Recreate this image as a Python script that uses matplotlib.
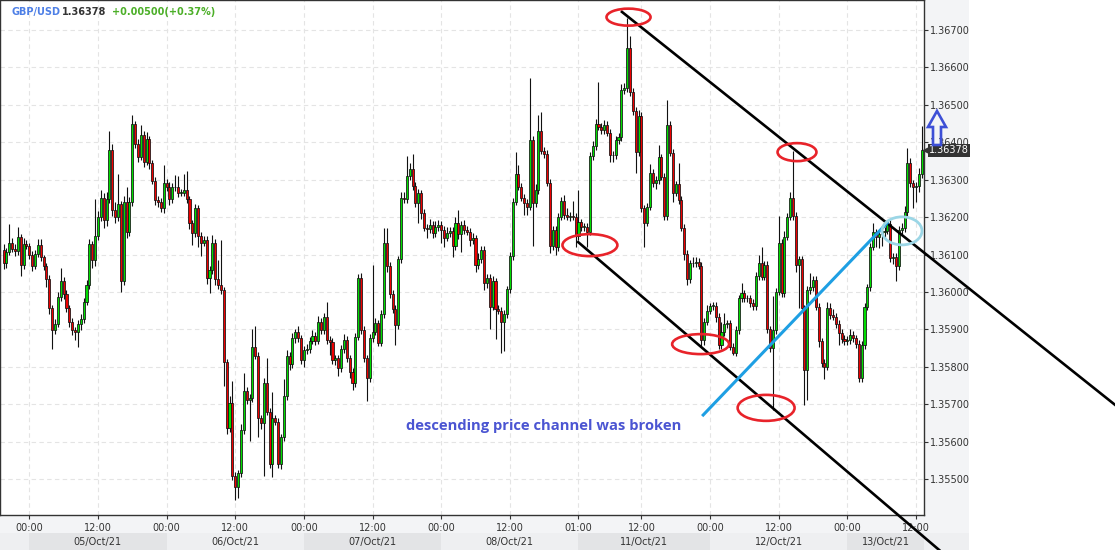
import numpy as np
import matplotlib.pyplot as plt
from matplotlib.patches import Ellipse, Polygon, Rectangle
from matplotlib.ticker import FormatStrFormatter

# GBP/USD, 30-minute candles, 04/Oct/21 evening -> 13/Oct/21 noon (weekend skipped)
# closes in pips above 1.36000; open of each candle = previous close
first_open_pips = 11.2
close_pips = [
    7.6, 10.8, 13.2, 11.4, 11.0, 14.8, 7.2, 12.8, 12.3, 9.9,
    7.0, 10.1, 12.6, 9.2, 7.0, 3.4, -4.4, -10.1, -8.5, -1.4,
    2.9, -0.6, -4.4, -7.9, -10.1, -10.7, -8.6, -7.3, -2.6, 1.9,
    12.7, 8.5, 14.9, 20.1, 25.2, 19.2, 24.7, 37.9, 21.9, 19.9,
    23.4, 2.8, 24.1, 15.9, 23.9, 44.7, 39.6, 36.1, 41.9, 34.8,
    40.7, 34.3, 29.7, 24.5, 24.1, 22.3, 29.2, 27.9, 24.8, 28.1,
    27.9, 26.5, 26.5, 27.2, 24.7, 18.3, 15.8, 22.3, 15.0, 13.2,
    13.9, 3.6, 5.9, 13.2, 3.4, 1.9, 0.4, -18.8, -36.3, -29.7,
    -49.1, -51.9, -48.4, -36.8, -26.3, -28.8, -28.3, -14.8, -17.0, -33.7,
    -35.0, -24.4, -31.9, -45.9, -33.7, -34.6, -45.9, -38.8, -27.7, -17.0,
    -19.3, -12.4, -10.8, -12.4, -18.1, -15.5, -15.2, -13.0, -11.7, -13.0,
    -7.9, -10.1, -6.8, -12.8, -13.3, -18.1, -17.7, -20.4, -15.3, -12.8,
    -17.7, -21.4, -24.4, -11.9, 3.6, -10.1, -17.7, -23.0, -12.4, -10.6,
    -8.4, -13.5, -5.9, 13.2, 6.9, -0.5, -4.5, -8.8, 8.7, 25.2,
    24.7, 30.9, 32.9, 28.3, 23.8, 26.3, 21.1, 17.2, 16.7, 17.9,
    15.8, 17.4, 17.9, 16.5, 14.5, 15.8, 16.3, 12.3, 18.5, 15.6,
    17.9, 16.5, 16.1, 13.9, 14.3, 7.2, 8.8, 11.2, 2.5, 3.7,
    -3.9, 2.8, -4.6, -5.0, -7.9, -5.9, 0.7, 9.6, 24.1, 31.4,
    28.1, 25.2, 23.8, 22.8, 40.5, 23.8, 27.2, 42.9, 37.7, 36.8,
    29.2, 12.3, 16.5, 11.9, 20.1, 24.3, 20.5, 20.1, 20.3, 20.1,
    14.9, 18.6, 17.4, 17.4, 16.1, 36.3, 38.9, 44.7, 44.1, 43.2,
    44.5, 42.5, 36.5, 36.5, 40.5, 41.4, 53.9, 54.3, 65.2, 53.4,
    48.3, 37.4, 47.0, 22.3, 18.5, 22.8, 31.8, 29.0, 29.9, 35.9,
    30.8, 20.3, 44.5, 37.2, 26.5, 28.7, 24.5, 17.2, 10.1, 3.4,
    7.6, 7.6, 8.1, 7.0, -12.8, -7.9, -5.0, -3.7, -3.7, -6.6,
    -14.1, -10.8, -8.5, -8.4, -14.6, -16.3, -10.1, -1.7, -0.4, -1.7,
    -1.7, -3.0, -3.7, 4.3, 7.6, 4.1, 7.2, -10.0, -15.0, -10.1,
    0.1, 13.2, -0.4, 14.8, 20.1, 25.2, 20.3, 7.2, 8.7, -4.4,
    -20.8, 0.5, 1.2, 3.2, -3.9, -13.2, -19.0, -19.9, -4.4, -6.1,
    -6.6, -8.5, -11.0, -12.6, -13.2, -12.8, -11.5, -12.4, -13.9, -23.0,
    -14.1, -3.9, 1.2, 12.1, 15.9, 14.8, 15.4, 16.1, 16.4, 18.1,
    9.0, 9.4, 6.8, 16.5, 17.0, 21.4, 34.3, 29.0, 28.1, 28.3,
    31.5, 37.8,
]
# wick lengths in pips above / below the body
up_wick = [
    1.5, 1.0, 5.0, 1.2, 1.5, 2.6, 0.8, 1.5, 1.0, 0.8,
    1.0, 1.2, 1.5, 1.5, 0.8, 0.8, 1.0, 0.8, 1.2, 1.5,
    3.4, 1.0, 1.2, 0.8, 1.0, 0.8, 1.0, 1.5, 1.0, 1.2,
    1.5, 1.0, 10.0, 1.5, 2.0, 1.2, 2.0, 5.0, 1.5, 2.0,
    8.0, 1.0, 1.5, 4.0, 1.5, 2.5, 1.0, 1.2, 2.6, 1.0,
    2.0, 1.0, 0.8, 1.0, 1.2, 1.0, 4.7, 1.0, 1.5, 1.0,
    3.0, 3.0, 1.0, 4.3, 5.0, 1.0, 1.0, 1.2, 1.0, 1.0,
    1.0, 1.0, 1.0, 2.0, 1.0, 5.0, 12.0, 1.0, 1.0, 2.0,
    6.0, 1.0, 1.0, 1.5, 4.8, 1.0, 1.0, 4.8, 5.7, 1.0,
    1.0, 1.5, 6.7, 1.0, 7.0, 1.0, 1.0, 1.0, 4.4, 1.5,
    1.0, 1.5, 1.0, 1.6, 1.0, 1.0, 1.2, 1.0, 1.5, 1.0,
    1.5, 1.0, 1.2, 4.0, 1.0, 1.0, 1.0, 1.0, 1.2, 1.5,
    1.0, 1.0, 1.0, 1.0, 1.1, 1.5, 1.0, 1.0, 1.2, 17.8,
    1.5, 1.0, 1.0, 4.0, 4.0, 1.0, 1.0, 1.0, 1.0, 1.5,
    1.5, 5.4, 1.5, 3.9, 1.0, 1.2, 1.0, 1.0, 1.0, 1.5,
    1.0, 1.5, 1.2, 1.0, 1.0, 1.5, 1.0, 1.0, 1.5, 3.4,
    1.0, 1.2, 1.0, 1.0, 1.5, 1.0, 1.5, 1.2, 1.0, 1.0,
    1.0, 1.5, 1.0, 1.0, 1.0, 1.0, 1.0, 1.2, 1.0, 6.0,
    2.5, 1.0, 1.0, 1.0, 16.5, 1.0, 1.5, 4.3, 5.2, 1.0,
    1.0, 1.0, 1.2, 1.0, 1.0, 1.1, 1.5, 2.0, 1.0, 4.0,
    1.0, 8.6, 1.0, 1.0, 1.0, 1.0, 1.5, 1.5, 11.4, 1.0,
    1.5, 1.0, 1.0, 1.0, 1.2, 1.0, 1.5, 1.5, 8.0, 3.0,
    1.0, 1.0, 1.5, 1.0, 1.0, 1.0, 2.3, 1.0, 1.0, 3.3,
    1.0, 1.0, 6.7, 1.0, 1.0, 1.0, 5.6, 1.0, 1.0, 1.0,
    1.0, 1.8, 1.3, 1.0, 1.0, 1.0, 1.5, 0.7, 1.0, 1.0,
    1.0, 2.9, 2.8, 1.0, 1.0, 1.0, 1.0, 1.0, 2.7, 1.0,
    1.0, 1.0, 1.0, 1.0, 2.3, 4.3, 1.0, 1.0, 1.0, 9.0,
    1.0, 7.1, 1.0, 1.5, 1.0, 1.5, 12.5, 1.0, 1.0, 1.0,
    1.0, 1.0, 3.8, 1.0, 1.0, 1.0, 1.0, 1.0, 1.8, 1.5,
    1.5, 1.0, 1.0, 1.0, 1.0, 1.0, 1.5, 1.0, 1.0, 1.0,
    1.0, 1.0, 1.0, 1.0, 2.6, 1.0, 1.0, 1.0, 1.0, 1.0,
    1.0, 1.0, 1.0, 1.0, 1.5, 1.5, 4.0, 1.5, 1.0, 1.0,
    1.5, 6.5,
]
down_wick = [
    1.5, 1.2, 1.0, 0.8, 1.5, 1.0, 3.0, 1.2, 0.8, 1.0,
    1.5, 1.0, 0.8, 1.0, 1.2, 2.0, 1.5, 5.2, 1.0, 0.8,
    1.0, 1.2, 1.0, 1.5, 1.5, 2.0, 4.0, 1.5, 1.0, 0.8,
    1.0, 2.0, 1.5, 1.0, 1.2, 2.0, 1.5, 1.0, 1.5, 1.5,
    1.0, 2.7, 1.0, 1.5, 1.0, 1.0, 1.2, 1.5, 1.0, 1.5,
    1.0, 1.5, 1.0, 1.2, 1.5, 1.0, 1.2, 1.0, 1.5, 1.0,
    1.0, 1.2, 1.0, 1.0, 1.0, 1.5, 3.3, 1.0, 2.9, 3.5,
    1.0, 1.5, 4.0, 1.0, 1.5, 1.0, 1.0, 6.4, 1.5, 1.0,
    1.0, 3.6, 3.0, 1.0, 1.0, 1.0, 11.0, 1.0, 1.0, 5.0,
    1.5, 14.0, 1.0, 1.0, 3.5, 1.0, 1.0, 1.2, 1.0, 1.0,
    1.5, 1.0, 1.2, 1.0, 1.0, 2.0, 1.0, 1.0, 1.0, 1.2,
    1.0, 1.2, 1.0, 1.0, 3.5, 1.0, 1.5, 2.0, 1.0, 1.0,
    1.0, 1.5, 1.7, 1.0, 1.0, 1.0, 1.0, 6.0, 1.0, 1.0,
    1.0, 1.0, 1.0, 1.0, 1.5, 1.0, 1.0, 5.3, 1.0, 1.0,
    1.0, 1.0, 1.0, 1.2, 1.0, 5.3, 1.5, 1.0, 2.4, 1.0,
    1.5, 1.0, 1.0, 3.5, 2.6, 1.0, 1.2, 3.0, 1.0, 1.5,
    4.9, 1.0, 1.0, 1.5, 1.0, 2.0, 1.0, 1.0, 2.0, 1.5,
    6.0, 1.0, 8.0, 1.0, 8.5, 7.8, 1.0, 1.0, 1.0, 1.0,
    1.0, 1.0, 3.3, 2.3, 1.0, 11.5, 1.0, 1.0, 1.0, 1.0,
    1.0, 1.8, 1.0, 2.0, 1.0, 1.0, 1.0, 1.0, 1.2, 1.0,
    2.8, 1.0, 1.2, 1.0, 4.0, 1.0, 1.0, 1.0, 1.0, 1.0,
    1.0, 1.0, 1.7, 1.7, 1.0, 1.0, 1.0, 1.0, 1.0, 1.0,
    1.0, 5.6, 1.0, 1.0, 6.4, 1.0, 1.0, 1.0, 1.5, 1.0,
    1.0, 1.0, 1.0, 1.0, 2.6, 1.0, 1.0, 1.0, 1.5, 1.5,
    1.0, 1.0, 1.0, 1.0, 1.5, 1.3, 1.0, 1.0, 1.0, 1.5,
    1.0, 1.0, 1.0, 1.0, 1.0, 0.5, 0.9, 1.0, 1.0, 1.0,
    1.0, 1.0, 1.0, 1.0, 1.0, 1.0, 1.0, 1.0, 1.0, 16.5,
    1.0, 1.0, 1.0, 1.0, 1.0, 1.0, 1.0, 2.0, 11.6, 1.0,
    9.3, 8.0, 1.0, 1.0, 1.0, 1.5, 1.0, 3.4, 1.0, 1.0,
    1.0, 1.0, 3.2, 1.0, 1.0, 1.0, 1.0, 1.0, 1.0, 1.0,
    1.0, 1.0, 1.0, 1.0, 1.0, 2.7, 3.0, 3.0, 1.5, 1.0,
    1.0, 1.5, 4.0, 1.0, 1.0, 1.0, 1.0, 1.0, 5.8, 4.0,
    1.5, 1.0,
]
prev_day_close = 1.35878

tick_idx = [9, 33, 57, 81, 105, 129, 153, 177, 201, 223, 247, 271, 295, 319]
tick_lbl = ['00:00', '12:00', '00:00', '12:00', '00:00', '12:00', '00:00', '12:00',
            '01:00', '12:00', '00:00', '12:00', '00:00', '12:00']
day_start = [9, 57, 105, 153, 201, 247, 295]
day_lbl = ['05/Oct/21', '06/Oct/21', '07/Oct/21', '08/Oct/21',
           '11/Oct/21', '12/Oct/21', '13/Oct/21']
price_levels = [1.355, 1.356, 1.357, 1.358, 1.359, 1.360, 1.361,
                1.362, 1.363, 1.364, 1.365, 1.366, 1.367]

assert len(close_pips) == len(up_wick) == len(down_wick)

c = 1.36 + np.array(close_pips) / 1e4
o = np.concatenate([[1.36 + first_open_pips / 1e4], c[:-1]])
hi = np.maximum(o, c) + np.array(up_wick) / 1e4
lo = np.minimum(o, c) - np.array(down_wick) / 1e4
x = np.arange(len(c))

W, H = 1115, 550
fig = plt.figure(figsize=(W / 100, H / 100), dpi=100, facecolor='white')
fig.add_artist(Rectangle((924 / W, 35 / H), 45 / W, 515 / H, transform=fig.transFigure,
                         fc='#f3f4f6', ec='none', zorder=-1))

ax = fig.add_axes([0, 35 / H, 924 / W, 515 / H])
ax.set_zorder(2)
ax.set_xlim(-1.245, 321.8)
ax.set_ylim(1.354053, 1.367787)

colors = np.where(c >= o, '#00dd00', '#ee0000')
ax.vlines(x, lo, hi, color='#111111', lw=0.8, zorder=3)
ax.bar(x, np.maximum(np.abs(c - o), 1e-5), bottom=np.minimum(o, c), width=0.72,
       color=colors, edgecolor='#111111', linewidth=0.55, zorder=4)

ax.set_axisbelow(True)
ax.grid(True, ls=(0, (4, 3)), color='#e4e4e4', lw=0.8)
ax.set_yticks(price_levels)
ax.yaxis.set_major_formatter(FormatStrFormatter('%.5f'))
ax.yaxis.tick_right()
ax.set_xticks(tick_idx)
ax.set_xticklabels(tick_lbl)
ax.tick_params(axis='y', direction='out', length=3, pad=1, labelsize=7, colors='#333333')
ax.tick_params(axis='x', direction='out', length=3, pad=3, labelsize=7, colors='#333333')
for s in ax.spines.values():
    s.set_color('#333333')
    s.set_linewidth(1.0)

# bottom strip with date bands
x_right = ax.get_xlim()[1]
axb = fig.add_axes([0, 0, 969 / W, 35 / H])
axb.set_zorder(1)
axb.set_xlim(-1.245, 337.6)
axb.set_ylim(0, 1)
axb.axis('off')
axb.add_patch(Rectangle((-1.245, 0), 338.9, 1, fc='#f3f4f6', ec='none'))
axb.add_patch(Rectangle((-1.245, 0), 338.9, 17 / 35, fc='#eeeff1', ec='none'))
edges = day_start + [x_right]
for k, lbl in enumerate(day_lbl):
    if k % 2 == 0:
        axb.add_patch(Rectangle((edges[k], 0), edges[k + 1] - edges[k], 17 / 35,
                                fc='#e3e4e6', ec='none'))
    axb.text((edges[k] + edges[k + 1]) / 2, 8.5 / 35, lbl, ha='center', va='center',
             fontsize=7, color='#333333')

# channel annotations
ax.plot([216.2, 388.6], [1.36747, 1.35699], color='black', lw=1.9, clip_on=False, zorder=6)
ax.plot([200.9, 327.1], [1.36133, 1.35312], color='black', lw=1.9, clip_on=False, zorder=6)
ax.plot([244.6, 308.9], [1.35672, 1.36184], color='#1e9fe3', lw=2.2, zorder=6)
ellipses = [(218.5, 1.36733, 15.4, 0.000453), (277.4, 1.36373, 13.6, 0.00048),
            (205.0, 1.36125, 19.2, 0.000587), (243.7, 1.35861, 19.9, 0.000533),
            (266.6, 1.35691, 19.9, 0.000693)]
for ex, ey, ew, eh in ellipses:
    ax.add_patch(Ellipse((ex, ey), ew, eh, fill=False, ec='#e8232a', lw=1.9, zorder=7))
ax.add_patch(Ellipse((314.1, 1.36163), 14.0, 0.000747, fill=False, ec='#9bd6e6',
                     lw=2.0, zorder=7))
ax.text(140.7, 1.35643, 'descending price channel was broken', color='#4b55d2',
        fontsize=10.6, fontweight='bold', family=['Open Sans', 'DejaVu Sans'],
        va='center', ha='left', zorder=7)

# hollow arrow in the price panel
arrow_px = [(937, 111), (946, 127), (941, 127), (941, 145), (933, 145), (933, 127), (928, 127)]
fig.add_artist(Polygon([(px / W, 1 - py / H) for px, py in arrow_px], closed=True,
                       fill=False, ec='#3d4fd6', lw=1.9, transform=fig.transFigure, zorder=5))

# last price tag
last = c[-1]
ytr = ax.get_yaxis_transform()
ax.plot([1.002], [last], marker='<', ms=5, color='#333333', transform=ytr,
        clip_on=False, zorder=8)
ax.text(1.0055, last, f'{last:.5f}', transform=ytr, color='white', fontsize=7,
        va='center', ha='left', zorder=8,
        bbox=dict(boxstyle='square,pad=0.15', fc='#333333', ec='none'))

# header
chg = last - prev_day_close
fig.text(11 / W, 1 - 12 / H, 'GBP/USD', color='#4d7fe6', fontsize=7, fontweight='bold', va='center')
fig.text(62 / W, 1 - 12 / H, f'{last:.5f}', color='#333333', fontsize=7, fontweight='bold', va='center')
fig.text(112 / W, 1 - 12 / H, f'{chg:+.5f}({chg / prev_day_close * 100:+.2f}%)',
         color='#4caf28', fontsize=7, fontweight='bold', va='center')

fig.savefig('out.png', dpi=100, facecolor='white')
